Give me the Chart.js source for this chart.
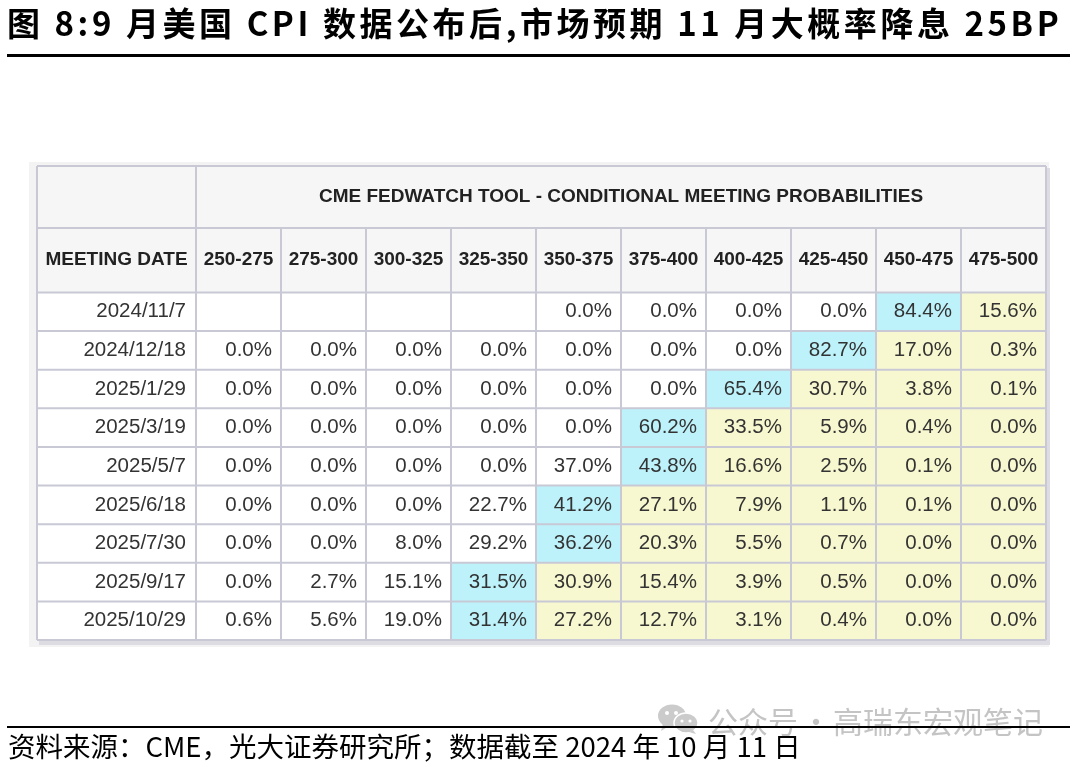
<!DOCTYPE html>
<html>
<head>
<meta charset="utf-8">
<script src="https://cdn.jsdelivr.net/npm/chart.js@4.4.1/dist/chart.umd.min.js"></script>
<style>
html,body{margin:0;padding:0;background:#fff;}
body{width:1080px;height:767px;position:relative;overflow:hidden;font-family:"Noto Sans CJK SC","Noto Sans",sans-serif;}
#chart{position:absolute;left:0;top:0;width:1080px;height:767px;}
#title{position:absolute;left:7px;top:2px;font-size:33px;font-weight:700;letter-spacing:3.55px;line-height:40px;white-space:nowrap;color:#000;}
#titleLine{position:absolute;left:7px;top:54px;width:1063px;height:3px;background:#000;}
#footLine{position:absolute;left:7px;top:726px;width:1063px;height:2px;background:#000;}
#foot{position:absolute;left:8px;top:729px;font-size:27.5px;line-height:32px;white-space:nowrap;color:#000;}
.wm{position:absolute;top:704px;font-size:30px;line-height:32px;white-space:nowrap;color:#c4c4c4;}
#wmIcon{position:absolute;left:656px;top:704px;}
</style>
</head>
<body>
<canvas id="chart" width="1080" height="767"></canvas>
<div id="title">图 8:9 月美国 CPI 数据公布后,市场预期 11 月大概率降息 25BP</div>
<div id="titleLine"></div>
<svg id="wmIcon" width="46" height="30" viewBox="0 0 46 30">
  <ellipse cx="16" cy="12" rx="14" ry="11.5" fill="#cbcbcb"/>
  <path d="M7 20 L5 27 L13 22 Z" fill="#cbcbcb"/>
  <ellipse cx="30" cy="19" rx="12" ry="10" fill="#cbcbcb" stroke="#fff" stroke-width="1.5"/>
  <path d="M37 26 L40 30 L33 28 Z" fill="#cbcbcb"/>
  <circle cx="11" cy="9" r="2" fill="#fff"/>
  <circle cx="20" cy="9" r="2" fill="#fff"/>
  <circle cx="26" cy="17" r="1.6" fill="#fff"/>
  <circle cx="34" cy="17" r="1.6" fill="#fff"/>
</svg>
<div class="wm" style="left:708px">公众号</div>
<div class="wm" style="left:801px">·</div>
<div class="wm" style="left:833px">高瑞东宏观笔记</div>
<div id="footLine"></div>
<div id="foot">资料来源：CME，光大证券研究所；数据截至 2024 年 10 月 11 日</div>
<script>
// ---- data ----
const rateRanges = ['250-275','275-300','300-325','325-350','350-375','375-400','400-425','425-450','450-475','475-500'];
const meetingDates = ['2024/11/7','2024/12/18','2025/1/29','2025/3/19','2025/5/7','2025/6/18','2025/7/30','2025/9/17','2025/10/29'];
const p20241107 = [null, null, null, null, 0.0, 0.0, 0.0, 0.0, 84.4, 15.6];
const p20241218 = [0.0, 0.0, 0.0, 0.0, 0.0, 0.0, 0.0, 82.7, 17.0, 0.3];
const p20250129 = [0.0, 0.0, 0.0, 0.0, 0.0, 0.0, 65.4, 30.7, 3.8, 0.1];
const p20250319 = [0.0, 0.0, 0.0, 0.0, 0.0, 60.2, 33.5, 5.9, 0.4, 0.0];
const p20250507 = [0.0, 0.0, 0.0, 0.0, 37.0, 43.8, 16.6, 2.5, 0.1, 0.0];
const p20250618 = [0.0, 0.0, 0.0, 22.7, 41.2, 27.1, 7.9, 1.1, 0.1, 0.0];
const p20250730 = [0.0, 0.0, 8.0, 29.2, 36.2, 20.3, 5.5, 0.7, 0.0, 0.0];
const p20250917 = [0.0, 2.7, 15.1, 31.5, 30.9, 15.4, 3.9, 0.5, 0.0, 0.0];
const p20251029 = [0.6, 5.6, 19.0, 31.4, 27.2, 12.7, 3.1, 0.4, 0.0, 0.0];
const tableTitle = 'CME FEDWATCH TOOL - CONDITIONAL MEETING PROBABILITIES';
const dateHeader = 'MEETING DATE';

const probabilityRows = [p20241107,p20241218,p20250129,p20250319,p20250507,p20250618,p20250730,p20250917,p20251029];

// ---- build points ----
const cellPoints = [];
meetingDates.forEach((d, r) => {
  const row = probabilityRows[r];
  let maxIdx = row.findIndex(v => v !== null);
  row.forEach((v, c) => { if (v !== null && v > row[maxIdx]) maxIdx = c; });
  row.forEach((v, c) => {
    if (v === null) return;
    cellPoints.push({ x: rateRanges[c], y: d, v: v, tone: c === maxIdx ? 'max' : (c > maxIdx ? 'above' : 'below') });
  });
});

const COLORS = { max: '#bdf2fb', above: '#f8f8d0', below: '#ffffff' };
const GRID = '#c8c9d5';
const TABLE_LEFT = 37, HEAD1_TOP = 166, HEAD2_TOP = 228;

const tablePlugin = {
  id: 'fedTable',
  beforeDatasetsDraw(chart) {
    const { ctx, chartArea: a, scales: { x, y } } = chart;
    const cw = x.getPixelForTick(1) - x.getPixelForTick(0);
    const rh = y.getPixelForTick(1) - y.getPixelForTick(0);
    ctx.save();
    ctx.fillStyle = '#f3f3f3';
    ctx.fillRect(29, 162, 1020, 485);
    ctx.fillStyle = '#dcdce2';
    ctx.fillRect(TABLE_LEFT + 2, HEAD1_TOP + 2, a.right - TABLE_LEFT + 2, a.bottom - HEAD1_TOP + 3);
    ctx.fillStyle = '#f6f6f6';
    ctx.fillRect(TABLE_LEFT, HEAD1_TOP, a.right - TABLE_LEFT, a.top - HEAD1_TOP);
    ctx.fillStyle = '#ffffff';
    ctx.fillRect(TABLE_LEFT, a.top, a.right - TABLE_LEFT, a.bottom - a.top);
    const meta = chart.getDatasetMeta(0);
    meta.data.forEach((el, i) => {
      ctx.fillStyle = COLORS[cellPoints[i].tone];
      ctx.fillRect(el.x - cw / 2, el.y - rh / 2, cw, rh);
    });
    ctx.strokeStyle = GRID;
    ctx.lineWidth = 2;
    ctx.beginPath();
    [HEAD1_TOP, HEAD2_TOP].forEach(yy => { ctx.moveTo(TABLE_LEFT, yy); ctx.lineTo(a.right, yy); });
    meetingDates.forEach((d, r) => {
      const yy = y.getPixelForTick(r) - rh / 2;
      ctx.moveTo(TABLE_LEFT, yy); ctx.lineTo(a.right, yy);
    });
    ctx.moveTo(TABLE_LEFT, a.bottom); ctx.lineTo(a.right, a.bottom);
    ctx.moveTo(TABLE_LEFT, HEAD1_TOP); ctx.lineTo(TABLE_LEFT, a.bottom);
    ctx.moveTo(a.left, HEAD1_TOP); ctx.lineTo(a.left, a.bottom);
    rateRanges.forEach((r, c) => {
      const xx = x.getPixelForTick(c) + cw / 2;
      ctx.moveTo(xx, c === rateRanges.length - 1 ? HEAD1_TOP : HEAD2_TOP); ctx.lineTo(xx, a.bottom);
    });
    ctx.stroke();
    ctx.fillStyle = '#222';
    ctx.font = 'bold 19px "Liberation Sans", Arial, sans-serif';
    ctx.textAlign = 'center';
    ctx.textBaseline = 'middle';
    ctx.fillText(tableTitle, (a.left + a.right) / 2, (HEAD1_TOP + HEAD2_TOP) / 2);
    ctx.fillText(dateHeader, (TABLE_LEFT + a.left) / 2, (HEAD2_TOP + a.top) / 2);
    rateRanges.forEach((r, c) => ctx.fillText(r, x.getPixelForTick(c), (HEAD2_TOP + a.top) / 2));
    ctx.fillStyle = '#333';
    ctx.font = '20.5px "Liberation Sans", Arial, sans-serif';
    ctx.textAlign = 'right';
    meetingDates.forEach((d, r) => ctx.fillText(d, a.left - 10, y.getPixelForTick(r)));
    meta.data.forEach((el, i) => {
      ctx.fillText(cellPoints[i].v.toFixed(1) + '%', el.x + cw / 2 - 9, el.y);
    });
    ctx.restore();
  }
};

new Chart(document.getElementById('chart'), {
  type: 'scatter',
  data: { datasets: [{ data: cellPoints, pointRadius: 0, pointHoverRadius: 0 }] },
  options: {
    responsive: false,
    animation: false,
    devicePixelRatio: 1,
    layout: { padding: { left: 196, right: 34, top: 292.5, bottom: 127 } },
    plugins: { legend: { display: false }, tooltip: { enabled: false }, title: { display: false } },
    events: [],
    scales: {
      x: { type: 'category', labels: rateRanges, offset: true, display: false },
      y: { type: 'category', labels: meetingDates, offset: true, display: false }
    }
  },
  plugins: [tablePlugin]
});
</script>
</body>
</html>
